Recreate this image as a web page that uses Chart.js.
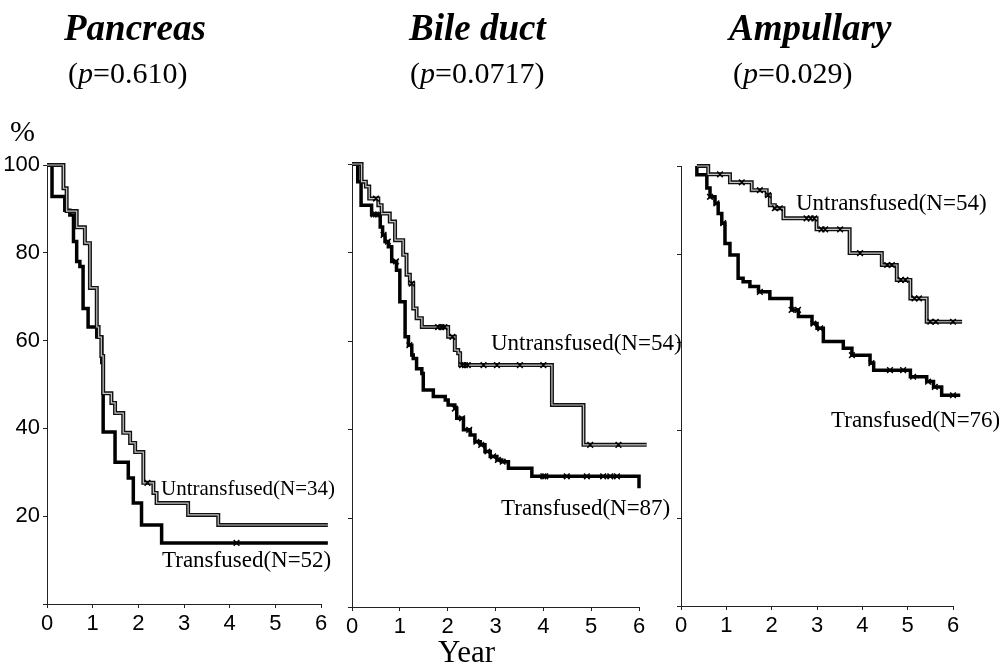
<!DOCTYPE html>
<html>
<head>
<meta charset="utf-8">
<script src="https://cdn.jsdelivr.net/npm/chart.js@4.4.1/dist/chart.umd.min.js"></script>
<style>
  html, body { margin: 0; padding: 0; background: #fff; }
  #wrap { position: relative; width: 999px; height: 664px; overflow: hidden; }
  canvas { position: absolute; left: 0; top: 0; }
  .t { position: absolute; white-space: nowrap; line-height: 1; color: #000;
       font-family: "Liberation Serif", "Times New Roman", serif; }
  .title { font-size: 37px; font-weight: bold; font-style: italic; }
  .pv { font-size: 30px; }
  .lbl { font-size: 23px; }
</style>
</head>
<body>
<div id="wrap">
  <canvas id="c1" width="999" height="664"></canvas>
  <canvas id="c2" width="999" height="664"></canvas>
  <canvas id="c3" width="999" height="664"></canvas>

  <div class="t title" style="left:64px;top:9px">Pancreas</div>
  <div class="t title" style="left:409px;top:9px">Bile duct</div>
  <div class="t title" style="left:729px;top:9px">Ampullary</div>

  <div class="t pv" style="left:68px;top:58px">(<i>p</i>=0.610)</div>
  <div class="t pv" style="left:410px;top:58px">(<i>p</i>=0.0717)</div>
  <div class="t pv" style="left:733px;top:58px">(<i>p</i>=0.029)</div>

  <div class="t pv" style="left:10px;top:116px">%</div>
  <div class="t" style="left:438px;top:636px;font-size:31px">Year</div>

  <div class="t lbl" style="left:161px;top:478px;font-size:21px">Untransfused(N=34)</div>
  <div class="t lbl" style="left:162px;top:548px">Transfused(N=52)</div>
  <div class="t lbl" style="left:491px;top:331px">Untransfused(N=54)</div>
  <div class="t lbl" style="left:501px;top:496px">Transfused(N=87)</div>
  <div class="t lbl" style="left:796px;top:191px">Untransfused(N=54)</div>
  <div class="t lbl" style="left:831px;top:408px">Transfused(N=76)</div>
</div>

<script>
// Kaplan-Meier survival, years vs %
const yearTicks = [0, 1, 2, 3, 4, 5, 6]
const pctTicks = [0, 20, 40, 60, 80, 100]

// Pancreas
const pancUntrT = [0, 0.36, 0.43, 0.65, 0.83, 0.94, 1.09, 1.13, 1.19, 1.23, 1.41, 1.49, 1.67, 1.82, 1.93, 2.11, 2.33, 2.40, 3.09, 3.75, 6.15]
const pancUntrS = [100, 94.7, 89.5, 85.8, 82.2, 72, 63.1, 60.8, 56.5, 48, 45.8, 43.5, 39, 36.7, 34.6, 27.6, 25.3, 23, 20.3, 18, 18]
const pancUntrCens = [2.2]
const pancTransT = [0, 0.11, 0.39, 0.50, 0.58, 0.65, 0.72, 0.79, 0.90, 1.09, 1.20, 1.23, 1.49, 1.78, 1.89, 2.07, 2.51, 6.15]
const pancTransS = [100, 92.8, 89.7, 88.6, 82.6, 78, 76.9, 67.3, 63.1, 60.8, 55, 39.2, 32.3, 28.7, 23, 18, 13.9, 13.9]
const pancTransCens = [4.15]

// Bile duct
const bileUntrT = [0, 0.2, 0.29, 0.36, 0.55, 0.62, 0.79, 0.9, 1.07, 1.14, 1.21, 1.28, 1.35, 1.46, 2.01, 2.15, 2.22, 2.26, 4.18, 4.84, 6.16]
const bileUntrS = [100, 96, 94.9, 92.2, 90.7, 88.8, 87, 82.8, 79.5, 75, 73, 67.4, 65.2, 63.2, 61, 58, 57.3, 54.6, 45.6, 36.6, 36.6]
const bileUntrCens = [0.5, 1.25, 1.8, 1.87, 1.93, 2.1, 2.3, 2.36, 2.42, 2.75, 3.03, 3.51, 4.0, 4.98, 5.57]
const bileTransT = [0, 0.12, 0.19, 0.41, 0.59, 0.64, 0.69, 0.76, 0.83, 0.93, 1.0, 1.11, 1.18, 1.25, 1.28, 1.35, 1.46, 1.49, 1.70, 1.95, 2.01, 2.15, 2.19, 2.33, 2.47, 2.57, 2.68, 2.78, 2.89, 3.03, 3.13, 3.27, 3.76, 6.0, 6.19]
const bileTransS = [100, 96, 90.7, 88.6, 85.8, 84, 82.5, 81.3, 78, 76, 68.9, 61, 59.1, 56.9, 56.1, 53.8, 52.7, 49, 47.5, 46.7, 45.6, 44.8, 42.6, 40, 38.8, 37.3, 36.6, 35.1, 34, 33.2, 32.8, 31.3, 29.5, 26.8, 26.8]
const bileTransCens = [0.45, 0.5, 0.55, 0.66, 0.75, 0.92, 1.2, 2.15, 2.3, 2.45, 2.6, 2.7, 2.83, 2.95, 3.05, 3.15, 4.0, 4.04, 4.49, 4.91, 5.25, 5.4, 5.54]

// Ampullary
const ampUntrT = [0.35, 0.6, 1.08, 1.56, 1.89, 1.96, 2.07, 2.26, 2.99, 3.72, 4.43, 4.76, 5.06, 5.42, 6.2]
const ampUntrS = [100, 98.1, 96.3, 94.5, 93.4, 91.1, 90.4, 88.1, 85.6, 80.2, 77.5, 74.1, 69.9, 64.6, 64.6]
const ampUntrCens = [0.86, 1.34, 1.74, 1.92, 2.07, 2.18, 2.77, 2.86, 2.94, 3.1, 3.18, 3.51, 3.95, 4.55, 4.65, 4.85, 4.95, 5.15, 5.25, 5.5, 5.62, 6.0]
const ampTransT = [0.35, 0.35, 0.57, 0.64, 0.75, 0.82, 0.9, 0.97, 1.08, 1.26, 1.37, 1.52, 1.71, 1.96, 2.44, 2.59, 2.89, 3.0, 3.14, 3.58, 3.77, 4.17, 4.25, 5.06, 5.42, 5.57, 5.75, 6.16]
const ampTransS = [100, 98, 95, 93, 91.5, 89.2, 87, 82.4, 79.8, 74.5, 73.7, 72.6, 71.4, 69.9, 67.3, 65.8, 64.2, 63.1, 60.1, 58.6, 57, 55.2, 53.6, 52.1, 51, 49.8, 47.9, 47.9]
const ampTransCens = [0.64, 0.78, 0.93, 1.74, 2.44, 2.58, 2.92, 3.07, 3.77, 4.2, 4.61, 4.9, 5.12, 5.45, 5.6, 6.0]

const W = 999, H = 664
const X_H = 40

function toPoints(T, S) {
  return T.map((t, i) => ({ x: t, y: S[i] }))
}

// survival value at time t (last step at or before t)
function stepAt(T, S, t) {
  let v = S[0]
  for (let i = 0; i < T.length; i++) if (T[i] <= t) v = S[i]
  return v
}

function censPoints(cens, T, S) {
  return cens.map(t => ({ x: t, y: stepAt(T, S, t) }))
}

const tickFont = { family: "'Liberation Sans', Arial, sans-serif", size: 22 }
const axisGrid = { drawOnChartArea: false, drawTicks: true, tickLength: 4, color: "#222", lineWidth: 1 }
const axisBorder = { display: true, color: "#222", width: 1 }

function panel(id, area, showY, untr, trans) {
  const line = { type: "line", stepped: "before", pointRadius: 0, fill: false, clip: false, tension: 0 }
  const mark = { type: "scatter", showLine: false, pointStyle: "crossRot", pointRadius: 4,
                 borderColor: "#000", borderWidth: 1.5, clip: false }
  const yW = area.left - area.pad

  return new Chart(document.getElementById(id), {
    data: {
      datasets: [
        { ...mark, data: censPoints(untr.cens, untr.T, untr.S) },
        { ...mark, data: censPoints(trans.cens, trans.T, trans.S) },
        { ...line, data: toPoints(untr.T, untr.S), borderColor: "#c4c4c4", borderWidth: 1.2 },
        { ...line, data: toPoints(untr.T, untr.S), borderColor: "#111", borderWidth: 4 },
        { ...line, data: toPoints(trans.T, trans.S), borderColor: "#000", borderWidth: 3.5 },
      ],
    },
    options: {
      responsive: false,
      animation: false,
      events: [],
      layout: {
        padding: { left: area.pad, right: W - area.right, top: area.top, bottom: H - area.bottom - X_H },
      },
      plugins: { legend: { display: false }, tooltip: { enabled: false } },
      scales: {
        x: {
          type: "linear",
          min: 0,
          max: 6,
          afterFit: s => { s.height = X_H },
          afterBuildTicks: s => { s.ticks = yearTicks.map(v => ({ value: v })) },
          border: axisBorder,
          grid: axisGrid,
          ticks: { color: "#000", font: tickFont, padding: 3, maxRotation: 0, autoSkip: false },
        },
        y: {
          type: "linear",
          min: 0,
          max: 100,
          afterFit: s => { s.width = yW },
          afterBuildTicks: s => { s.ticks = pctTicks.map(v => ({ value: v })) },
          border: axisBorder,
          grid: axisGrid,
          ticks: {
            display: showY,
            color: "#000",
            font: tickFont,
            padding: 3,
            callback: v => (v === 0 ? "" : v),
          },
        },
      },
    },
  })
}

panel("c1", { pad: 0, left: 47, right: 321, top: 165, bottom: 604 }, true,
  { T: pancUntrT, S: pancUntrS, cens: pancUntrCens },
  { T: pancTransT, S: pancTransS, cens: pancTransCens })

panel("c2", { pad: 342, left: 352, right: 639, top: 164, bottom: 607 }, false,
  { T: bileUntrT, S: bileUntrS, cens: bileUntrCens },
  { T: bileTransT, S: bileTransS, cens: bileTransCens })

panel("c3", { pad: 671, left: 681, right: 953, top: 166, bottom: 606 }, false,
  { T: ampUntrT, S: ampUntrS, cens: ampUntrCens },
  { T: ampTransT, S: ampTransS, cens: ampTransCens })
</script>
</body>
</html>
